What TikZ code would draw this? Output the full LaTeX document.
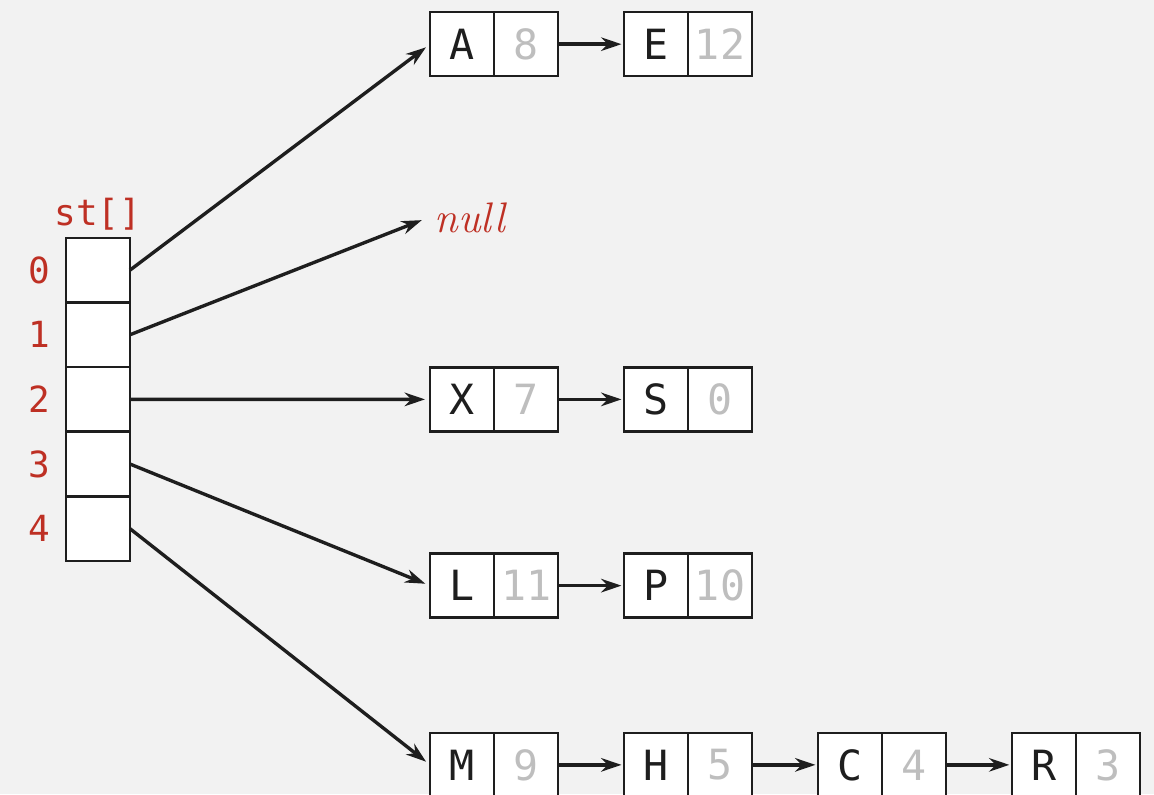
\documentclass[tikz,border=0pt]{standalone}
\usepackage{fontspec}
\setmonofont{DejaVu Sans Mono}
\usetikzlibrary{positioning,arrows.meta}

\definecolor{bgcol}{RGB}{242,242,242}
\definecolor{idxred}{RGB}{190,48,36}
\definecolor{valgray}{RGB}{190,190,190}
\definecolor{linecol}{RGB}{30,30,30}

\tikzset{
    cell/.style={draw=linecol, line width=1.1pt, fill=white, minimum width=1cm, minimum height=1.01cm, inner sep=0pt, outer sep=0pt},
    keybox/.style={cell, minimum height=1cm, font=\ttfamily\fontsize{18.5}{20}\selectfont, text=linecol},
    valbox/.style={keybox, text=valgray},
    idx/.style={text=idxred, font=\ttfamily\fontsize{16}{18}\selectfont},
    link/.style={-{Stealth[length=9pt,width=6pt]}, line width=1.5pt, draw=linecol, shorten >=0.08cm},
    next/.style={link, shorten >=0.04cm}
}

\begin{document}
\begin{tikzpicture}
    \fill[bgcol] (0,0) rectangle (18.03,-12.406);
    \useasboundingbox (0,0) rectangle (18.03,-12.406);

    % Nodes
    \node[cell] (st0) at (1.531,-4.22) {};
    \node[cell, below=0pt of st0] (st1) {};
    \node[cell, below=0pt of st1] (st2) {};
    \node[cell, below=0pt of st2] (st3) {};
    \node[cell, below=0pt of st3] (st4) {};
    \node[idx, above=0pt of st0] (stname) {st[]};
    \node[idx, left=0.12cm of st0] (i0) {0};
    \node[idx, left=0.12cm of st1] (i1) {1};
    \node[idx, left=0.12cm of st2] (i2) {2};
    \node[idx, left=0.12cm of st3] (i3) {3};
    \node[idx, left=0.12cm of st4] (i4) {4};

    \node[keybox] (kA) at (7.22,-0.69) {A};
    \node[valbox, right=0pt of kA] (vA) {8};
    \node[keybox, right=1.03cm of vA] (kE) {E};
    \node[valbox, right=0pt of kE] (vE) {12};

    \node[text=idxred, font=\itshape\fontsize{19}{22}\selectfont] (null) at (7.34,-3.41) {null};

    \node[keybox] (kX) at (7.22,-6.24) {X};
    \node[valbox, right=0pt of kX] (vX) {7};
    \node[keybox, right=1.03cm of vX] (kS) {S};
    \node[valbox, right=0pt of kS] (vS) {0};

    \node[keybox] (kL) at (7.22,-9.15) {L};
    \node[valbox, right=0pt of kL] (vL) {11};
    \node[keybox, right=1.03cm of vL] (kP) {P};
    \node[valbox, right=0pt of kP] (vP) {10};

    \node[keybox] (kM) at (7.22,-11.95) {M};
    \node[valbox, right=0pt of kM] (vM) {9};
    \node[keybox, right=1.03cm of vM] (kH) {H};
    \node[valbox, right=0pt of kH] (vH) {5};
    \node[keybox, right=1.03cm of vH] (kC) {C};
    \node[valbox, right=0pt of kC] (vC) {4};
    \node[keybox, right=1.03cm of vC] (kR) {R};
    \node[valbox, right=0pt of kR] (vR) {3};

    % Arrows
    \draw[link] (st0.east) -- (kA.west);
    \draw[link] (st1.east) -- (null.west);
    \draw[link] (st2.east) -- (kX.west);
    \draw[link] (st3.east) -- (kL.west);
    \draw[link] (st4.east) -- (kM.west);

    \draw[next] (vA.east) -- (kE.west);
    \draw[next] (vX.east) -- (kS.west);
    \draw[next] (vL.east) -- (kP.west);
    \draw[next] (vM.east) -- (kH.west);
    \draw[next] (vH.east) -- (kC.west);
    \draw[next] (vC.east) -- (kR.west);
\end{tikzpicture}
\end{document}
